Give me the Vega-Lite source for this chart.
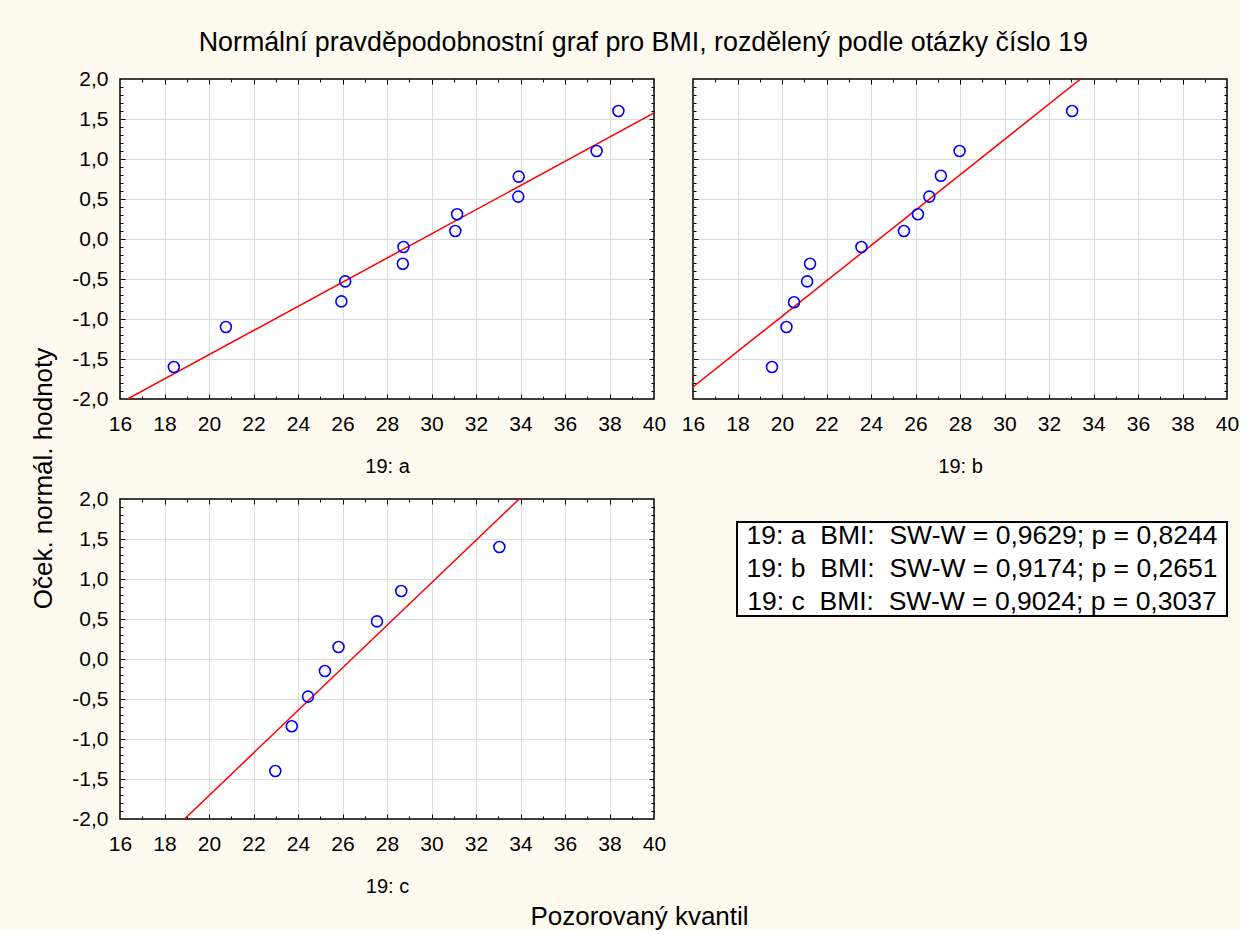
{
  "$schema": "https://vega.github.io/schema/vega-lite/v6.json",
  "background": "#FFFAF0",
  "padding": {"left": 29, "top": 30, "right": 0, "bottom": 0},
  "title": {
    "text": "Normální pravděpodobnostní graf pro BMI, rozdělený podle otázky číslo 19",
    "font": "Liberation Sans",
    "fontSize": 26.8,
    "fontWeight": "normal",
    "color": "black",
    "anchor": "middle",
    "dx": 9,
    "offset": 10
  },
  "datasets": {
    "pts": [
      {"g": "a", "x": 18.42, "y": -1.6},
      {"g": "a", "x": 20.76, "y": -1.1},
      {"g": "a", "x": 25.95, "y": -0.78},
      {"g": "a", "x": 26.12, "y": -0.53},
      {"g": "a", "x": 28.71, "y": -0.31},
      {"g": "a", "x": 28.74, "y": -0.1},
      {"g": "a", "x": 31.07, "y": 0.1},
      {"g": "a", "x": 31.15, "y": 0.31},
      {"g": "a", "x": 33.9, "y": 0.53},
      {"g": "a", "x": 33.92, "y": 0.78},
      {"g": "a", "x": 37.42, "y": 1.1},
      {"g": "a", "x": 38.4, "y": 1.6},
      {"g": "b", "x": 19.55, "y": -1.6},
      {"g": "b", "x": 20.2, "y": -1.1},
      {"g": "b", "x": 20.54, "y": -0.79},
      {"g": "b", "x": 21.13, "y": -0.53},
      {"g": "b", "x": 21.26, "y": -0.31},
      {"g": "b", "x": 23.57, "y": -0.1},
      {"g": "b", "x": 25.48, "y": 0.1},
      {"g": "b", "x": 26.11, "y": 0.31},
      {"g": "b", "x": 26.62, "y": 0.53},
      {"g": "b", "x": 27.14, "y": 0.79},
      {"g": "b", "x": 27.98, "y": 1.1},
      {"g": "b", "x": 33.04, "y": 1.6},
      {"g": "c", "x": 22.98, "y": -1.4},
      {"g": "c", "x": 23.72, "y": -0.84},
      {"g": "c", "x": 24.45, "y": -0.47},
      {"g": "c", "x": 25.21, "y": -0.15},
      {"g": "c", "x": 25.82, "y": 0.15},
      {"g": "c", "x": 27.55, "y": 0.47},
      {"g": "c", "x": 28.64, "y": 0.85},
      {"g": "c", "x": 33.05, "y": 1.4}
    ],
    "fit": [
      {"g": "a", "x": 16.34, "y": -2.0},
      {"g": "a", "x": 40.0, "y": 1.575},
      {"g": "b", "x": 16.0, "y": -1.85},
      {"g": "b", "x": 33.42, "y": 2.0},
      {"g": "c", "x": 18.9, "y": -2.0},
      {"g": "c", "x": 33.94, "y": 2.0}
    ],
    "sw": [
      {"line": 1, "label": "19: a\u00a0 BMI:\u00a0 SW-W = 0,9629; p = 0,8244"},
      {"line": 2, "label": "19: b\u00a0 BMI:\u00a0 SW-W = 0,9174; p = 0,2651"},
      {"line": 3, "label": "19: c\u00a0 BMI:\u00a0 SW-W = 0,9024; p = 0,3037"}
    ]
  },
  "bounds": "flush",
  "columns": 2,
  "spacing": {"row": 100, "column": 39},
  "concat": [
    {
      "width": 534,
      "height": 320,
      "resolve": {"axis": {"x": "independent", "y": "independent"}},
      "layer": [
        {
          "data": {"name": "fit"},
          "transform": [{"filter": "datum.g === 'a'"}],
          "mark": {"type": "line", "color": "#ff0000", "strokeWidth": 1.5, "clip": true},
          "encoding": {
            "x": {"field": "x", "type": "quantitative", "scale": {"domain": [16, 40], "nice": false, "zero": false},
              "axis": {"orient": "bottom", "values": [16, 18, 20, 22, 24, 26, 28, 30, 32, 34, 36, 38, 40], "ticks": false, "grid": false, "labelPadding": 14, "title": "19: a", "titlePadding": 22, "titleFontSize": 20}},
            "y": {"field": "y", "type": "quantitative", "scale": {"domain": [-2, 2], "nice": false, "zero": false},
              "axis": {"orient": "left", "values": [-2, -1.5, -1, -0.5, 0, 0.5, 1, 1.5, 2], "format": ".1f", "ticks": false, "grid": false, "labelPadding": 12, "title": "Oček. normál. hodnoty", "titleX": -64, "titleY": 399, "titleFontSize": 26}}
          }
        },
        {
          "data": {"name": "pts"},
          "transform": [{"filter": "datum.g === 'a'"}],
          "mark": {"type": "point", "shape": "circle", "filled": false, "stroke": "#0000ff", "strokeWidth": 1.6, "size": 120, "opacity": 1},
          "encoding": {
            "x": {"field": "x", "type": "quantitative", "scale": {"domain": [16, 40], "nice": false, "zero": false},
              "axis": {"orient": "bottom", "values": [18, 20, 22, 24, 26, 28, 30, 32, 34, 36, 38], "labels": false, "grid": true, "tickSize": -5, "title": null}},
            "y": {"field": "y", "type": "quantitative", "scale": {"domain": [-2, 2], "nice": false, "zero": false},
              "axis": {"orient": "left", "values": [-1.5, -1, -0.5, 0, 0.5, 1, 1.5], "labels": false, "grid": true, "tickSize": -5, "title": null}}
          }
        },
        {
          "data": {"name": "pts"},
          "transform": [{"filter": "datum.g === 'a'"}],
          "mark": {"type": "point", "opacity": 0},
          "encoding": {
            "x": {"field": "x", "type": "quantitative", "scale": {"domain": [16, 40], "nice": false, "zero": false},
              "axis": {"orient": "bottom", "values": [17, 19, 21, 23, 25, 27, 29, 31, 33, 35, 37, 39], "labels": false, "grid": false, "tickSize": -3, "title": null}},
            "y": {"field": "y", "type": "quantitative", "scale": {"domain": [-2, 2], "nice": false, "zero": false},
              "axis": {"orient": "left", "values": [-1.9, -1.8, -1.7, -1.6, -1.4, -1.3, -1.2, -1.1, -0.9, -0.8, -0.7, -0.6, -0.4, -0.3, -0.2, -0.1, 0.1, 0.2, 0.3, 0.4, 0.6, 0.7, 0.8, 0.9, 1.1, 1.2, 1.3, 1.4, 1.6, 1.7, 1.8, 1.9], "labels": false, "grid": false, "tickSize": -3, "title": null}}
          }
        },
        {
          "data": {"name": "pts"},
          "transform": [{"filter": "datum.g === 'a'"}],
          "mark": {"type": "point", "opacity": 0},
          "encoding": {
            "x": {"field": "x", "type": "quantitative", "scale": {"domain": [16, 40], "nice": false, "zero": false},
              "axis": {"orient": "top", "values": [18, 20, 22, 24, 26, 28, 30, 32, 34, 36, 38], "labels": false, "grid": false, "tickSize": -5, "title": null}},
            "y": {"field": "y", "type": "quantitative", "scale": {"domain": [-2, 2], "nice": false, "zero": false},
              "axis": {"orient": "right", "values": [-1.5, -1, -0.5, 0, 0.5, 1, 1.5], "labels": false, "grid": false, "tickSize": -5, "title": null}}
          }
        },
        {
          "data": {"name": "pts"},
          "transform": [{"filter": "datum.g === 'a'"}],
          "mark": {"type": "point", "opacity": 0},
          "encoding": {
            "x": {"field": "x", "type": "quantitative", "scale": {"domain": [16, 40], "nice": false, "zero": false},
              "axis": {"orient": "top", "values": [17, 19, 21, 23, 25, 27, 29, 31, 33, 35, 37, 39], "labels": false, "grid": false, "tickSize": -3, "title": null}},
            "y": {"field": "y", "type": "quantitative", "scale": {"domain": [-2, 2], "nice": false, "zero": false},
              "axis": {"orient": "right", "values": [-1.9, -1.8, -1.7, -1.6, -1.4, -1.3, -1.2, -1.1, -0.9, -0.8, -0.7, -0.6, -0.4, -0.3, -0.2, -0.1, 0.1, 0.2, 0.3, 0.4, 0.6, 0.7, 0.8, 0.9, 1.1, 1.2, 1.3, 1.4, 1.6, 1.7, 1.8, 1.9], "labels": false, "grid": false, "tickSize": -3, "title": null}}
          }
        }
      ]
    },
    {
      "width": 534,
      "height": 320,
      "resolve": {"axis": {"x": "independent", "y": "independent"}},
      "layer": [
        {
          "data": {"name": "fit"},
          "transform": [{"filter": "datum.g === 'b'"}],
          "mark": {"type": "line", "color": "#ff0000", "strokeWidth": 1.5, "clip": true},
          "encoding": {
            "x": {"field": "x", "type": "quantitative", "scale": {"domain": [16, 40], "nice": false, "zero": false},
              "axis": {"orient": "bottom", "values": [16, 18, 20, 22, 24, 26, 28, 30, 32, 34, 36, 38, 40], "ticks": false, "grid": false, "labelPadding": 14, "title": "19: b", "titlePadding": 22, "titleFontSize": 20}},
            "y": {"field": "y", "type": "quantitative", "scale": {"domain": [-2, 2], "nice": false, "zero": false},
              "axis": null}
          }
        },
        {
          "data": {"name": "pts"},
          "transform": [{"filter": "datum.g === 'b'"}],
          "mark": {"type": "point", "shape": "circle", "filled": false, "stroke": "#0000ff", "strokeWidth": 1.6, "size": 120, "opacity": 1},
          "encoding": {
            "x": {"field": "x", "type": "quantitative", "scale": {"domain": [16, 40], "nice": false, "zero": false},
              "axis": {"orient": "bottom", "values": [18, 20, 22, 24, 26, 28, 30, 32, 34, 36, 38], "labels": false, "grid": true, "tickSize": -5, "title": null}},
            "y": {"field": "y", "type": "quantitative", "scale": {"domain": [-2, 2], "nice": false, "zero": false},
              "axis": {"orient": "left", "values": [-1.5, -1, -0.5, 0, 0.5, 1, 1.5], "labels": false, "grid": true, "tickSize": -5, "title": null}}
          }
        },
        {
          "data": {"name": "pts"},
          "transform": [{"filter": "datum.g === 'b'"}],
          "mark": {"type": "point", "opacity": 0},
          "encoding": {
            "x": {"field": "x", "type": "quantitative", "scale": {"domain": [16, 40], "nice": false, "zero": false},
              "axis": {"orient": "bottom", "values": [17, 19, 21, 23, 25, 27, 29, 31, 33, 35, 37, 39], "labels": false, "grid": false, "tickSize": -3, "title": null}},
            "y": {"field": "y", "type": "quantitative", "scale": {"domain": [-2, 2], "nice": false, "zero": false},
              "axis": {"orient": "left", "values": [-1.9, -1.8, -1.7, -1.6, -1.4, -1.3, -1.2, -1.1, -0.9, -0.8, -0.7, -0.6, -0.4, -0.3, -0.2, -0.1, 0.1, 0.2, 0.3, 0.4, 0.6, 0.7, 0.8, 0.9, 1.1, 1.2, 1.3, 1.4, 1.6, 1.7, 1.8, 1.9], "labels": false, "grid": false, "tickSize": -3, "title": null}}
          }
        },
        {
          "data": {"name": "pts"},
          "transform": [{"filter": "datum.g === 'b'"}],
          "mark": {"type": "point", "opacity": 0},
          "encoding": {
            "x": {"field": "x", "type": "quantitative", "scale": {"domain": [16, 40], "nice": false, "zero": false},
              "axis": {"orient": "top", "values": [18, 20, 22, 24, 26, 28, 30, 32, 34, 36, 38], "labels": false, "grid": false, "tickSize": -5, "title": null}},
            "y": {"field": "y", "type": "quantitative", "scale": {"domain": [-2, 2], "nice": false, "zero": false},
              "axis": {"orient": "right", "values": [-1.5, -1, -0.5, 0, 0.5, 1, 1.5], "labels": false, "grid": false, "tickSize": -5, "title": null}}
          }
        },
        {
          "data": {"name": "pts"},
          "transform": [{"filter": "datum.g === 'b'"}],
          "mark": {"type": "point", "opacity": 0},
          "encoding": {
            "x": {"field": "x", "type": "quantitative", "scale": {"domain": [16, 40], "nice": false, "zero": false},
              "axis": {"orient": "top", "values": [17, 19, 21, 23, 25, 27, 29, 31, 33, 35, 37, 39], "labels": false, "grid": false, "tickSize": -3, "title": null}},
            "y": {"field": "y", "type": "quantitative", "scale": {"domain": [-2, 2], "nice": false, "zero": false},
              "axis": {"orient": "right", "values": [-1.9, -1.8, -1.7, -1.6, -1.4, -1.3, -1.2, -1.1, -0.9, -0.8, -0.7, -0.6, -0.4, -0.3, -0.2, -0.1, 0.1, 0.2, 0.3, 0.4, 0.6, 0.7, 0.8, 0.9, 1.1, 1.2, 1.3, 1.4, 1.6, 1.7, 1.8, 1.9], "labels": false, "grid": false, "tickSize": -3, "title": null}}
          }
        }
      ]
    },
    {
      "width": 534,
      "height": 320,
      "resolve": {"axis": {"x": "independent", "y": "independent"}},
      "layer": [
        {
          "data": {"name": "fit"},
          "transform": [{"filter": "datum.g === 'c'"}],
          "mark": {"type": "line", "color": "#ff0000", "strokeWidth": 1.5, "clip": true},
          "encoding": {
            "x": {"field": "x", "type": "quantitative", "scale": {"domain": [16, 40], "nice": false, "zero": false},
              "axis": {"orient": "bottom", "values": [16, 18, 20, 22, 24, 26, 28, 30, 32, 34, 36, 38, 40], "ticks": false, "grid": false, "labelPadding": 14, "title": "19: c", "titlePadding": 22, "titleFontSize": 20}},
            "y": {"field": "y", "type": "quantitative", "scale": {"domain": [-2, 2], "nice": false, "zero": false},
              "axis": {"orient": "left", "values": [-2, -1.5, -1, -0.5, 0, 0.5, 1, 1.5, 2], "format": ".1f", "ticks": false, "grid": false, "labelPadding": 12, "title": null}}
          }
        },
        {
          "data": {"name": "pts"},
          "transform": [{"filter": "datum.g === 'c'"}],
          "mark": {"type": "point", "shape": "circle", "filled": false, "stroke": "#0000ff", "strokeWidth": 1.6, "size": 120, "opacity": 1},
          "encoding": {
            "x": {"field": "x", "type": "quantitative", "scale": {"domain": [16, 40], "nice": false, "zero": false},
              "axis": {"orient": "bottom", "values": [18, 20, 22, 24, 26, 28, 30, 32, 34, 36, 38], "labels": false, "grid": true, "tickSize": -5, "title": null}},
            "y": {"field": "y", "type": "quantitative", "scale": {"domain": [-2, 2], "nice": false, "zero": false},
              "axis": {"orient": "left", "values": [-1.5, -1, -0.5, 0, 0.5, 1, 1.5], "labels": false, "grid": true, "tickSize": -5, "title": null}}
          }
        },
        {
          "data": {"name": "pts"},
          "transform": [{"filter": "datum.g === 'c'"}],
          "mark": {"type": "point", "opacity": 0},
          "encoding": {
            "x": {"field": "x", "type": "quantitative", "scale": {"domain": [16, 40], "nice": false, "zero": false},
              "axis": {"orient": "bottom", "values": [17, 19, 21, 23, 25, 27, 29, 31, 33, 35, 37, 39], "labels": false, "grid": false, "tickSize": -3, "title": "Pozorovaný kvantil", "titleX": 519, "titleY": 84, "titleFontSize": 26}},
            "y": {"field": "y", "type": "quantitative", "scale": {"domain": [-2, 2], "nice": false, "zero": false},
              "axis": {"orient": "left", "values": [-1.9, -1.8, -1.7, -1.6, -1.4, -1.3, -1.2, -1.1, -0.9, -0.8, -0.7, -0.6, -0.4, -0.3, -0.2, -0.1, 0.1, 0.2, 0.3, 0.4, 0.6, 0.7, 0.8, 0.9, 1.1, 1.2, 1.3, 1.4, 1.6, 1.7, 1.8, 1.9], "labels": false, "grid": false, "tickSize": -3, "title": null}}
          }
        },
        {
          "data": {"name": "pts"},
          "transform": [{"filter": "datum.g === 'c'"}],
          "mark": {"type": "point", "opacity": 0},
          "encoding": {
            "x": {"field": "x", "type": "quantitative", "scale": {"domain": [16, 40], "nice": false, "zero": false},
              "axis": {"orient": "top", "values": [18, 20, 22, 24, 26, 28, 30, 32, 34, 36, 38], "labels": false, "grid": false, "tickSize": -5, "title": null}},
            "y": {"field": "y", "type": "quantitative", "scale": {"domain": [-2, 2], "nice": false, "zero": false},
              "axis": {"orient": "right", "values": [-1.5, -1, -0.5, 0, 0.5, 1, 1.5], "labels": false, "grid": false, "tickSize": -5, "title": null}}
          }
        },
        {
          "data": {"name": "pts"},
          "transform": [{"filter": "datum.g === 'c'"}],
          "mark": {"type": "point", "opacity": 0},
          "encoding": {
            "x": {"field": "x", "type": "quantitative", "scale": {"domain": [16, 40], "nice": false, "zero": false},
              "axis": {"orient": "top", "values": [17, 19, 21, 23, 25, 27, 29, 31, 33, 35, 37, 39], "labels": false, "grid": false, "tickSize": -3, "title": null}},
            "y": {"field": "y", "type": "quantitative", "scale": {"domain": [-2, 2], "nice": false, "zero": false},
              "axis": {"orient": "right", "values": [-1.9, -1.8, -1.7, -1.6, -1.4, -1.3, -1.2, -1.1, -0.9, -0.8, -0.7, -0.6, -0.4, -0.3, -0.2, -0.1, 0.1, 0.2, 0.3, 0.4, 0.6, 0.7, 0.8, 0.9, 1.1, 1.2, 1.3, 1.4, 1.6, 1.7, 1.8, 1.9], "labels": false, "grid": false, "tickSize": -3, "title": null}}
          }
        }
      ]
    },
    {
      "bounds": "flush",
      "spacing": 0,
      "vconcat": [
        {
          "width": 1,
          "height": 23,
          "data": {"name": "sw"},
          "mark": {"type": "text", "opacity": 0},
          "encoding": {"text": {"value": ""}},
          "view": {"stroke": null, "fill": null}
        },
        {
          "bounds": "flush",
          "spacing": 0,
          "hconcat": [
            {
              "width": 44,
              "height": 1,
              "data": {"name": "sw"},
              "mark": {"type": "text", "opacity": 0},
              "encoding": {"text": {"value": ""}},
              "view": {"stroke": null, "fill": null}
            },
            {
              "width": 490,
              "height": 94,
              "data": {"name": "sw"},
              "mark": {"type": "text", "font": "Liberation Sans", "fontSize": 26.5, "color": "black", "baseline": "middle", "align": "center"},
              "encoding": {
                "y": {"field": "line", "type": "ordinal", "axis": null, "scale": {"type": "point", "padding": 0.42}},
                "text": {"field": "label"}
              },
              "view": {"stroke": "black", "strokeWidth": 2, "fill": "white"}
            }
          ]
        }
      ]
    }
  ],
  "config": {
    "font": "Liberation Sans",
    "locale": {"number": {"decimal": ",", "thousands": " ", "grouping": [3], "currency": ["", ""], "minus": "-"}},
    "view": {"fill": "white", "stroke": "black", "strokeWidth": 1.5},
    "axis": {
      "domain": false,
      "labelFont": "Liberation Sans",
      "labelFontSize": 21,
      "labelColor": "black",
      "labelFlush": false,
      "labelOverlap": false,
      "tickColor": "black",
      "tickWidth": 1,
      "gridColor": "#dcdcdc",
      "gridWidth": 1,
      "titleFont": "Liberation Sans",
      "titleFontWeight": "normal",
      "titleColor": "black"
    }
  }
}
